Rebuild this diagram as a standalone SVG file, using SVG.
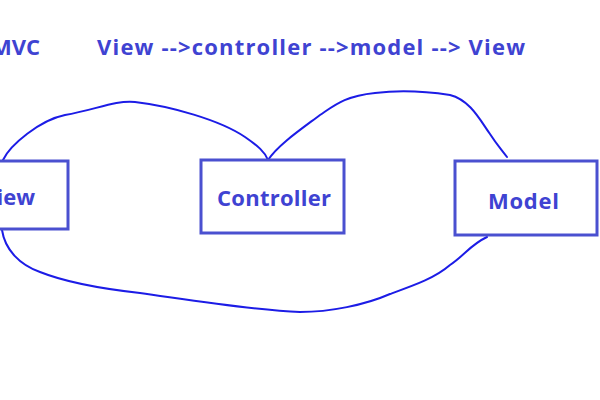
<svg xmlns="http://www.w3.org/2000/svg" width="600" height="400" viewBox="0 0 600 400">
<style>
.t{font-family:"Open Sans","Noto Sans",sans-serif;font-weight:bold;fill:#3f43d2}
.title{font-size:22px}
.lbl{font-size:22px}
.box{fill:none;stroke:#4a50d0;stroke-width:3}
.c{fill:none;stroke:#1c1ce6;stroke-width:2;stroke-linecap:round;stroke-linejoin:round}
</style>
<rect width="600" height="400" fill="#ffffff"/>
<text class="t title" x="40" y="55" text-anchor="end">MVC</text>
<text class="t title" x="97" y="55" textLength="428" lengthAdjust="spacing">View --&gt;controller --&gt;model --&gt; View</text>
<g id="connectors">
<path class="c" d="M3,160 C10,145 40,120 65,115 C95,110 115,100 135,102 C170,106 220,120 245,137 C258,146 265,152 268,160"/>
<path class="c" d="M268,160 C278,145 300,130 320,115 C335,105 345,96 375,93 C400,90 430,92 450,95 C470,100 480,120 490,134 C497,145 502,150 507,157"/>
<path class="c" d="M2,230 C5,250 20,265 40,272 C65,282 95,288 140,293 C190,300 250,310 300,312 C330,312 365,305 390,294 C415,285 435,278 450,265 C465,255 470,245 487,237"/>
</g>
<g id="view">
<rect class="box" x="-10" y="161" width="78" height="68"/>
<text class="t lbl" x="35" y="205" text-anchor="end">View</text>
</g>
<g id="controller">
<rect class="box" x="201" y="160" width="143" height="73"/>
<text class="t lbl" x="217" y="206" textLength="114" lengthAdjust="spacing">Controller</text>
</g>
<g id="model">
<rect class="box" x="455" y="161" width="142" height="74"/>
<text class="t lbl" x="488" y="209" textLength="71" lengthAdjust="spacing">Model</text>
</g>
</svg>
